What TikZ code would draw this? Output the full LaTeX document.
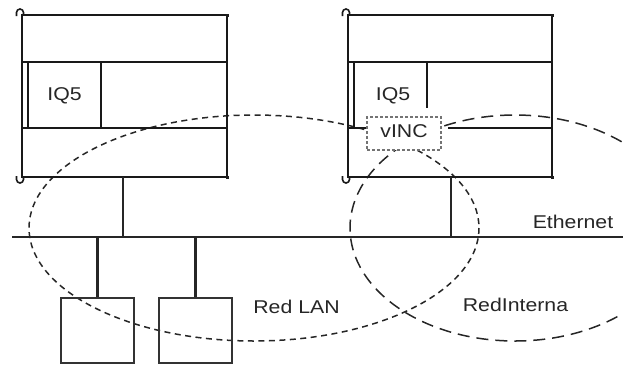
\documentclass[tikz,border=0pt]{standalone}
\usepackage{fontspec}
\setmainfont{Liberation Sans}
\newcommand\xwide[1]{\scalebox{1.15}[1]{#1}}
\begin{document}
\begin{tikzpicture}[x=1pt,y=-1pt,
  frame/.style={line width=1.8pt, draw=black!90},
  hook/.style={line width=1.6pt, draw=black!90},
  conn/.style={line width=2.4pt, draw=black!85},
  bus/.style={line width=2.8pt, draw=black!85},
  lbl/.style={font=\fontsize{18.5}{20}\selectfont, text=black!85, inner sep=0pt},
  dev/.style={draw=black!80, line width=1.3pt, minimum width=73pt, minimum height=65pt, inner sep=0pt},
  lan/.style={dash pattern=on 6pt off 4.5pt, line width=1.5pt, draw=black!85},
  intr/.style={dash pattern=on 12pt off 7pt, line width=1.5pt, draw=black!85},
  vbox/.style={draw=black!55, dash pattern=on 3pt off 2pt, fill=white, line width=1.2pt,
    minimum width=74pt, minimum height=33pt, inner sep=0pt}
]
\useasboundingbox (0,0) rectangle (623,368);

% networks (drawn first)
\draw[lan] (254,228) ellipse [x radius=225, y radius=113];
\draw[intr] (515,228) ellipse [x radius=165, y radius=113];

% PLC A
\begin{scope}[shift={(22,15)}]
  \draw[frame] (0,0) rectangle (205,162);
  \draw[frame] (0,47) -- (205,47);
  \draw[frame] (0,113) -- (205,113);
  \draw[frame] (6,47) -- (6,113);
  \draw[frame] (79,47) -- (79,113);
  \draw[hook] (-5.5,1) -- (-5.5,-2.5) arc[start angle=180,end angle=360,radius=3.5] -- (1.5,-1);
  \draw[hook] (-5.5,161) -- (-5.5,164.5) arc[start angle=180,end angle=0,radius=3.5] -- (1.5,163);
  \fill[black!88] (203.5,-1.5) rectangle (206.5,1.5);
  \fill[black!88] (203.5,160.5) rectangle (206.5,163.5);
  \coordinate (plcA-b) at (101,162);
\end{scope}
\node[lbl] (iqA) at (64.5,95.5) {\xwide{IQ5}};

% PLC B
\begin{scope}[shift={(348,15)}]
  \draw[frame] (0,0) rectangle (204,162);
  \draw[frame] (0,47) -- (204,47);
  \draw[frame] (6,47) -- (6,113) -- (19,113);
  \draw[frame] (0,113) -- (6,113);
  \draw[frame] (100,113) -- (204,113);
  \draw[frame] (79,47) -- (79,93);
  \draw[hook] (-5.5,1) -- (-5.5,-2.5) arc[start angle=180,end angle=360,radius=3.5] -- (1.5,-1);
  \draw[hook] (-5.5,161) -- (-5.5,164.5) arc[start angle=180,end angle=0,radius=3.5] -- (1.5,163);
  \fill[black!88] (202.5,-1.5) rectangle (205.5,1.5);
  \fill[black!88] (202.5,160.5) rectangle (205.5,163.5);
  \coordinate (plcB-b) at (103,162);
\end{scope}
\node[lbl] (iqB) at (393,95.5) {\xwide{IQ5}};
\node[vbox] (vinc) at (404,133.5) {};
\node[lbl] (vinc-t) at (404,131.5) {\xwide{vINC}};

% Ethernet bus
\coordinate (eth-w) at (12,237);
\coordinate (eth-e) at (623,237);
\draw[bus] (eth-w) -- (eth-e);
\node[lbl] (eth-t) at (573,221.5) {\xwide{Ethernet}};

% connectors
\draw[conn] (plcA-b) -- (plcA-b |- eth-w);
\draw[conn] (plcB-b) -- (plcB-b |- eth-w);

% devices
\node[dev] (dev1) at (97.5,330.5) {};
\node[dev] (dev2) at (195.5,330.5) {};
\draw[conn] (dev1.north) -- (dev1.north |- eth-w);
\draw[conn] (dev2.north) -- (dev2.north |- eth-w);

% labels
\node[lbl] (lan-t) at (296.5,306.5) {\xwide{Red LAN}};
\node[lbl] (int-t) at (515.5,305) {\xwide{RedInterna}};
\end{tikzpicture}
\end{document}
